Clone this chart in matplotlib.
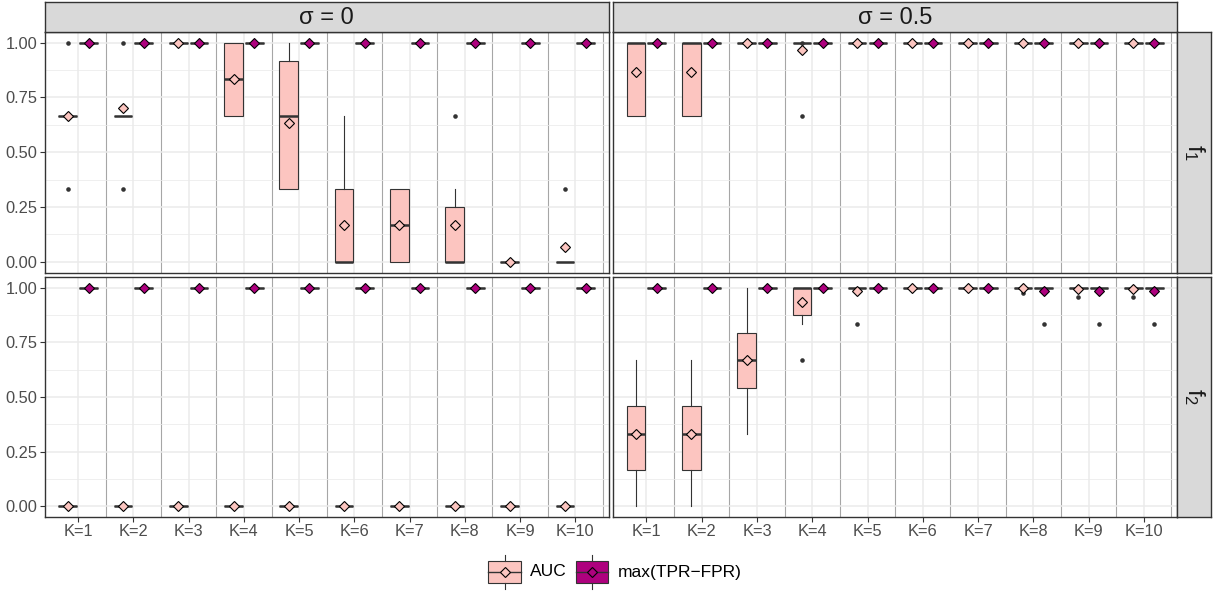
import matplotlib
matplotlib.use("Agg")
import matplotlib.pyplot as plt
from matplotlib.patches import Rectangle
from matplotlib.lines import Line2D

plt.rcParams['font.family'] = ['Liberation Sans', 'DejaVu Sans']

# ---------------- data ----------------
k_labels = ["K=%d" % k for k in range(1, 11)]
sigma_labels = ["σ = 0", "σ = 0.5"]
f_labels = [r"$\mathregular{f_1}$", r"$\mathregular{f_2}$"]
measures = ["AUC", "max(TPR\u2212FPR)"]

# box statistics per K: (whislo, q1, med, q3, whishi, mean)
auc_s0_f1 = [(0.667, 0.667, 0.667, 0.667, 0.667, 0.667),
             (0.667, 0.667, 0.667, 0.667, 0.667, 0.700),
             (1.0, 1.0, 1.0, 1.0, 1.0, 1.0),
             (0.667, 0.667, 0.833, 1.0, 1.0, 0.833),
             (0.333, 0.333, 0.667, 0.917, 1.0, 0.633),
             (0.0, 0.0, 0.0, 0.333, 0.667, 0.167),
             (0.0, 0.0, 0.167, 0.333, 0.333, 0.167),
             (0.0, 0.0, 0.0, 0.25, 0.333, 0.167),
             (0.0, 0.0, 0.0, 0.0, 0.0, 0.0),
             (0.0, 0.0, 0.0, 0.0, 0.0, 0.067)]
auc_s0_f1_out = [[1.0, 0.333], [1.0, 0.333], [], [], [], [], [], [0.667], [], [0.333]]

auc_s05_f1 = [(0.667, 0.667, 1.0, 1.0, 1.0, 0.867),
              (0.667, 0.667, 1.0, 1.0, 1.0, 0.867),
              (1.0, 1.0, 1.0, 1.0, 1.0, 1.0),
              (1.0, 1.0, 1.0, 1.0, 1.0, 0.967),
              (1.0, 1.0, 1.0, 1.0, 1.0, 1.0),
              (1.0, 1.0, 1.0, 1.0, 1.0, 1.0),
              (1.0, 1.0, 1.0, 1.0, 1.0, 1.0),
              (1.0, 1.0, 1.0, 1.0, 1.0, 1.0),
              (1.0, 1.0, 1.0, 1.0, 1.0, 1.0),
              (1.0, 1.0, 1.0, 1.0, 1.0, 1.0)]
auc_s05_f1_out = [[], [], [], [0.667, 1.0], [], [], [], [], [], []]

auc_s0_f2 = [(0.0, 0.0, 0.0, 0.0, 0.0, 0.0)] * 10
auc_s0_f2_out = [[]] * 10

auc_s05_f2 = [(0.0, 0.167, 0.333, 0.458, 0.667, 0.333),
              (0.0, 0.167, 0.333, 0.458, 0.667, 0.333),
              (0.333, 0.542, 0.667, 0.792, 1.0, 0.667),
              (0.833, 0.875, 1.0, 1.0, 1.0, 0.933),
              (1.0, 1.0, 1.0, 1.0, 1.0, 0.983),
              (1.0, 1.0, 1.0, 1.0, 1.0, 1.0),
              (1.0, 1.0, 1.0, 1.0, 1.0, 1.0),
              (1.0, 1.0, 1.0, 1.0, 1.0, 0.997),
              (1.0, 1.0, 1.0, 1.0, 1.0, 0.996),
              (1.0, 1.0, 1.0, 1.0, 1.0, 0.996)]
auc_s05_f2_out = [[], [], [], [0.667], [0.833], [], [], [0.975], [0.958], [0.958]]

tpr_s0_f1 = [(1.0, 1.0, 1.0, 1.0, 1.0, 1.0)] * 10
tpr_s0_f1_out = [[]] * 10
tpr_s05_f1 = [(1.0, 1.0, 1.0, 1.0, 1.0, 1.0)] * 10
tpr_s05_f1_out = [[]] * 10
tpr_s0_f2 = [(1.0, 1.0, 1.0, 1.0, 1.0, 1.0)] * 10
tpr_s0_f2_out = [[]] * 10
tpr_s05_f2 = [(1.0, 1.0, 1.0, 1.0, 1.0, 1.0)] * 7 + [(1.0, 1.0, 1.0, 1.0, 1.0, 0.983)] * 3
tpr_s05_f2_out = [[]] * 7 + [[0.833]] * 3

panels = {
    (0, 0): (auc_s0_f1, auc_s0_f1_out, tpr_s0_f1, tpr_s0_f1_out),
    (0, 1): (auc_s05_f1, auc_s05_f1_out, tpr_s05_f1, tpr_s05_f1_out),
    (1, 0): (auc_s0_f2, auc_s0_f2_out, tpr_s0_f2, tpr_s0_f2_out),
    (1, 1): (auc_s05_f2, auc_s05_f2_out, tpr_s05_f2, tpr_s05_f2_out),
}

# ---------------- style ----------------
fill_colors = ["#FCC5C0", "#AE017E"]
dark = "#333333"
grid_col = "#EBEBEB"
sep_col = "#A6A6A6"
strip_fill = "#D9D9D9"

W, H = 1218, 592
fig = plt.figure(figsize=(W / 100, H / 100), dpi=100)


def px_axes(x0, y0, x1, y1, **kw):
    return fig.add_axes([x0 / W, 1 - y1 / H, (x1 - x0) / W, (y1 - y0) / H], **kw)


col_x = [(45.0, 608.5), (613.3, 1177.0)]
row_y = [(31.7, 272.7), (276.7, 517.3)]
strip_top = (1.7, 31.7)
strip_right = (1177.0, 1211.0)

positions = list(range(1, 11))
dodge = 0.1875
bw = 0.3375


def to_bxp(stats, outs):
    res = []
    for (lo, q1, med, q3, hi, mean), fl in zip(stats, outs):
        res.append(dict(whislo=lo, q1=q1, med=med, q3=q3, whishi=hi,
                        mean=mean, fliers=list(fl)))
    return res


for (r, c), (auc, auc_out, tpr, tpr_out) in panels.items():
    x0, x1 = col_x[c]
    y0, y1 = row_y[r]
    ax = px_axes(x0, y0, x1, y1)
    ax.set_xlim(0.4, 10.6)
    ax.set_ylim(-0.05, 1.05)
    ax.set_facecolor("white")
    # grid
    ax.set_yticks([0, 0.25, 0.5, 0.75, 1.0])
    ax.set_yticks([0.125, 0.375, 0.625, 0.875], minor=True)
    ax.set_xticks(positions)
    ax.grid(which="major", color=grid_col, lw=1.1, zorder=0)
    ax.grid(which="minor", axis="y", color=grid_col, lw=0.55, zorder=0)
    ax.set_axisbelow(True)
    for sx in [p + 0.5 for p in positions]:
        ax.axvline(sx, color=sep_col, lw=0.8, zorder=0.5)
    for series, (st, ou) in enumerate([(auc, auc_out), (tpr, tpr_out)]):
        sgn = -1 if series == 0 else 1
        pos = [p + sgn * dodge for p in positions]
        ax.bxp(to_bxp(st, ou), positions=pos, widths=bw, patch_artist=True,
               showmeans=True, showcaps=False, manage_ticks=False,
               boxprops=dict(facecolor=fill_colors[series], edgecolor=dark, lw=0.8),
               medianprops=dict(color=dark, lw=1.8),
               whiskerprops=dict(color=dark, lw=0.8),
               flierprops=dict(marker="o", markerfacecolor=dark, markeredgecolor="none",
                               markersize=3.3),
               meanprops=dict(marker="D", markerfacecolor=fill_colors[series],
                              markeredgecolor="black", markeredgewidth=0.8,
                              markersize=5.6, zorder=5))
    for sp in ax.spines.values():
        sp.set_color(dark)
        sp.set_linewidth(1.0)
        sp.set_zorder(6)
    ax.tick_params(which="both", length=0, labelleft=False, labelbottom=False)
    ax.tick_params(which="major", color=dark, width=0.8)
    if c == 0:
        ax.tick_params(axis="y", which="major", length=3.5, labelleft=True,
                       labelsize=11.8, labelcolor="#4D4D4D", pad=2)
        ax.set_yticklabels(["0.00", "0.25", "0.50", "0.75", "1.00"])
    if r == 1:
        ax.tick_params(axis="x", which="major", length=3.5, labelbottom=True,
                       labelsize=11.8, labelcolor="#4D4D4D", pad=1.5)
        ax.set_xticklabels(k_labels)

# top strips
for c in range(2):
    x0, x1 = col_x[c]
    sa = px_axes(x0, strip_top[0], x1, strip_top[1])
    sa.set_facecolor(strip_fill)
    sa.set_xticks([]); sa.set_yticks([])
    for sp in sa.spines.values():
        sp.set_color(dark); sp.set_linewidth(1.0)
    sa.text(0.5, 0.47, sigma_labels[c], ha="center", va="center", fontsize=17,
            color="#1A1A1A", transform=sa.transAxes)

# right strips
for r in range(2):
    y0, y1 = row_y[r]
    sa = px_axes(strip_right[0], y0, strip_right[1], y1)
    sa.set_facecolor(strip_fill)
    sa.set_xticks([]); sa.set_yticks([])
    for sp in sa.spines.values():
        sp.set_color(dark); sp.set_linewidth(1.0)
    sa.text(0.5, 0.5, f_labels[r], ha="center", va="center", fontsize=17,
            color="#1A1A1A", rotation=-90, transform=sa.transAxes)

# legend (drawn in pixel coordinates)
lg = px_axes(0, 0, W, H)
lg.set_xlim(0, W); lg.set_ylim(H, 0)
lg.axis("off")
key_x = [488.3, 576.0]
text_x = [530.0, 618.0]
kw_, ky0, ky1, wy0, wy1 = 32.4, 561.0, 583.0, 555.0, 589.0
for i in range(2):
    kx = key_x[i]
    cx = kx + kw_ / 2
    cy = (ky0 + ky1) / 2
    lg.add_line(Line2D([cx, cx], [wy0, ky0], color=dark, lw=0.8))
    lg.add_line(Line2D([cx, cx], [ky1, wy1], color=dark, lw=0.8))
    lg.add_patch(Rectangle((kx, ky0), kw_, ky1 - ky0, facecolor=fill_colors[i],
                           edgecolor=dark, lw=0.8))
    lg.add_line(Line2D([kx, kx + kw_], [cy, cy], color=dark, lw=1.0))
    lg.plot([cx], [cy], marker="D", markersize=5.6, markerfacecolor=fill_colors[i],
            markeredgecolor="black", markeredgewidth=0.8)
    lg.text(text_x[i], cy, measures[i], ha="left", va="center", fontsize=12.5,
            color="black")

fig.savefig("out.png", dpi=100)
